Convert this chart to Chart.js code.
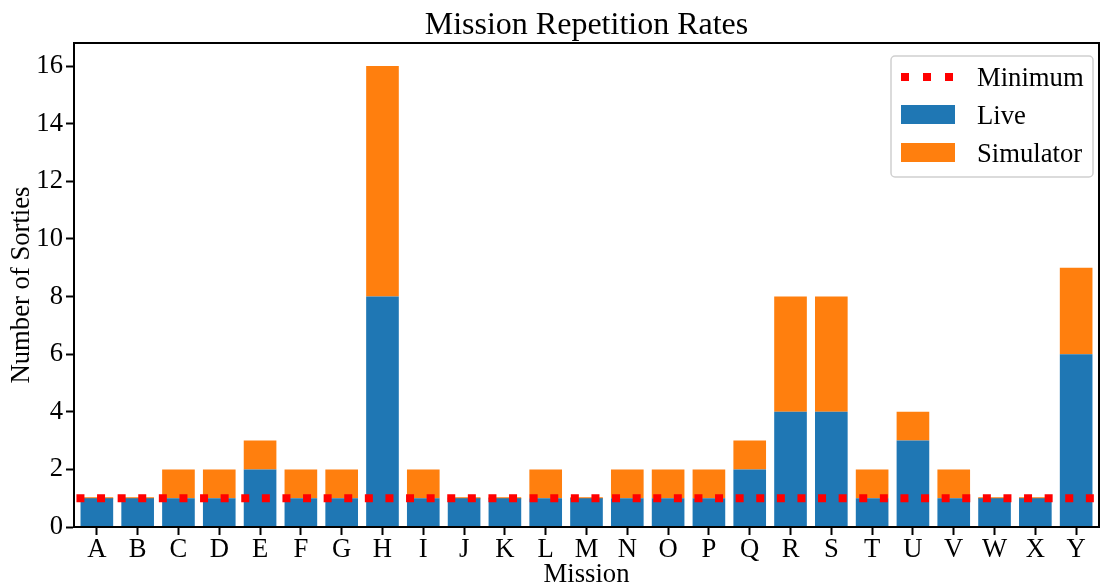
<!DOCTYPE html>
<html>
<head>
<meta charset="utf-8">
<script src="https://cdn.jsdelivr.net/npm/chart.js@4"></script>
<style>
  body { margin: 0; background: #fff; }
  canvas { display: block; }
</style>
</head>
<body>
<canvas id="myChart" width="1100" height="586"></canvas>
<script>
const missions = ['A','B','C','D','E','F','G','H','I','J','K','L','M','N','O','P','Q','R','S','T','U','V','W','X','Y'];
const live      = [1,1,1,1,2,1,1,8,1,1,1,1,1,1,1,1,2,4,4,1,3,1,1,1,6];
const simulator = [0,0,1,1,1,1,1,8,1,0,0,1,0,1,1,1,1,4,4,1,1,1,0,0,3];
const minimum = 1;
const yTicks = [0, 2, 4, 6, 8, 10, 12, 14, 16];

const FONT = '"Liberation Serif", "Times New Roman", serif';
const SIZE = 26.67;
const BLUE = '#1f77b4';
const ORANGE = '#ff7f0e';

(() => {
    const ctx = document.getElementById('myChart');

    // frame on all four sides, title and boxed legend in the upper right
    const decorations = {
        id: 'decorations',
        afterDatasetsDraw(chart) {
            const c = chart.ctx;
            const a = chart.chartArea;
            c.save();
            c.strokeStyle = '#000';
            c.lineWidth = 2;
            c.strokeRect(a.left, a.top, a.right - a.left, a.bottom - a.top);

            c.fillStyle = '#000';
            c.font = '32px ' + FONT;
            c.textAlign = 'center';
            c.textBaseline = 'alphabetic';
            c.fillText('Mission Repetition Rates', (a.left + a.right) / 2, 34);

            // legend
            const bx = 891, by = 56, bw = 202, bh = 121;
            c.beginPath();
            c.roundRect(bx, by, bw, bh, 4);
            c.fillStyle = 'rgba(255,255,255,0.8)';
            c.fill();
            c.strokeStyle = '#d0d0d0';
            c.lineWidth = 1.5;
            c.stroke();

            c.font = SIZE + 'px ' + FONT;
            const rows = [77, 115, 153];
            const order = [2, 0, 1];
            order.forEach((di, i) => {
                const ds = chart.data.datasets[di];
                const y = rows[i];
                if (ds.type === 'line') {
                    c.fillStyle = ds.borderColor;
                    [901, 923, 945].forEach(x => c.fillRect(x, y - 4, 8, 8));
                } else {
                    c.fillStyle = ds.backgroundColor;
                    c.fillRect(901, y - 10, 54, 19);
                }
                c.fillStyle = '#000';
                c.textAlign = 'left';
                c.fillText(ds.label, 977, y + 9);
            });
            c.restore();
        }
    };

    const config = {
        type: 'bar',
        data: {
            datasets: [
                {
                    label: 'Live',
                    data: live.map((v, i) => ({x: i, y: v})),
                    backgroundColor: BLUE,
                    stack: 'sorties',
                    order: 2
                },
                {
                    label: 'Simulator',
                    data: simulator.map((v, i) => ({x: i, y: v})),
                    backgroundColor: ORANGE,
                    stack: 'sorties',
                    minBarLength: 2,
                    order: 3
                },
                {
                    type: 'line',
                    label: 'Minimum',
                    data: [{x: -0.5, y: minimum}, {x: missions.length - 0.5, y: minimum}],
                    borderColor: '#ff0000',
                    borderWidth: 8,
                    borderDash: [8, 12.6],
                    borderCapStyle: 'butt',
                    pointRadius: 0,
                    stack: 'min',
                    order: 1
                }
            ]
        },
        options: {
            responsive: false,
            animation: false,
            devicePixelRatio: 1,
            layout: {padding: {top: 43, right: 1, left: 0, bottom: 0}},
            datasets: {
                bar: {categoryPercentage: 1, barPercentage: 0.8}
            },
            plugins: {
                legend: {display: false},
                tooltip: {enabled: false}
            },
            scales: {
                x: {
                    type: 'linear',
                    min: -0.56,
                    max: missions.length - 0.44,
                    offset: false,
                    stacked: true,
                    afterBuildTicks: s => { s.ticks = missions.map((m, i) => ({value: i})); },
                    afterFit: s => { s.height = 59; },
                    ticks: {
                        callback: v => missions[v],
                        color: '#000',
                        font: {family: FONT, size: SIZE},
                        padding: -1,
                        maxRotation: 0,
                        autoSkip: false
                    },
                    grid: {
                        offset: false,
                        drawOnChartArea: false,
                        tickLength: 8,
                        tickWidth: 2,
                        tickColor: '#000'
                    },
                    border: {color: '#000', width: 2},
                    title: {
                        display: true,
                        text: 'Mission',
                        color: '#000',
                        font: {family: FONT, size: SIZE, lineHeight: 1},
                        padding: {top: 0, bottom: -2}
                    }
                },
                y: {
                    stacked: true,
                    min: 0,
                    max: 16.8,
                    afterBuildTicks: s => { s.ticks = yTicks.map(v => ({value: v})); },
                    afterFit: s => { s.width = 74; },
                    ticks: {
                        color: '#000',
                        font: {family: FONT, size: SIZE},
                        padding: 3
                    },
                    grid: {
                        drawOnChartArea: false,
                        tickLength: 8,
                        tickWidth: 2,
                        tickColor: '#000'
                    },
                    border: {color: '#000', width: 2},
                    title: {
                        display: true,
                        text: 'Number of Sorties',
                        color: '#000',
                        font: {family: FONT, size: SIZE, lineHeight: 1.2},
                        padding: {top: 6, bottom: 0}
                    }
                }
            }
        },
        plugins: [decorations]
    };

    new Chart(ctx, config);
})();
</script>
</body>
</html>
